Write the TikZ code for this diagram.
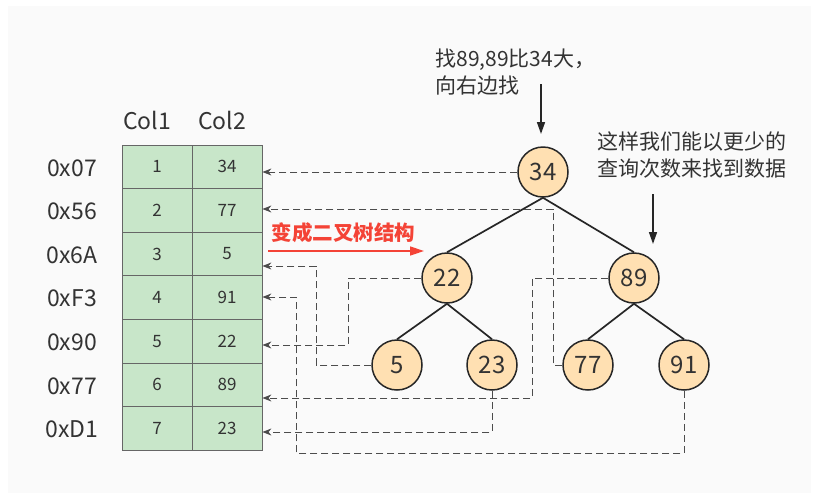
\documentclass[tikz,border=0pt]{standalone}
\usepackage{fontspec}
\setmainfont{Noto Sans CJK SC}
\usetikzlibrary{arrows.meta}
\definecolor{cellg}{HTML}{C8E6C9}
\definecolor{nodef}{HTML}{FFE0B2}
\definecolor{bgg}{HTML}{FAFAFA}
\definecolor{redc}{HTML}{F44336}
\begin{document}
\begin{tikzpicture}[x=1pt,y=-1pt,
  cell/.style={draw=gray!80!black,line width=0.8pt,fill=cellg,minimum width=70pt,minimum height=43.6pt,inner sep=0pt,font=\fontsize{17}{19}\selectfont,text=black!80},
  tn/.style={circle,draw=black!85,line width=1.5pt,fill=nodef,minimum size=50pt,inner sep=0pt,font=\fontsize{24}{26}\selectfont,text=black!80},
  lbl/.style={font=\fontsize{23}{25}\selectfont,text=black!80},
  dl/.style={dashed,dash pattern=on 7pt off 4pt,draw=black!70,line width=1pt,-{Stealth[length=9pt,width=7pt]}},
  ed/.style={line width=1.7pt,draw=black!85},
  ann/.style={font=\fontsize{21}{27}\selectfont,text=black!80,align=left}]
\useasboundingbox (0,0) rectangle (819,499);
\fill[white] (0,0) rectangle (819,499);
\fill[bgg] (8,6) rectangle (811,493);
% headers
\node[lbl] (h1) at (147,120) {Col1};
\node[lbl] (h2) at (222,120) {Col2};
% table
\foreach \i/\a/\b/\r in {1/1/34/0x07,2/2/77/0x56,3/3/5/0x6A,4/4/91/0xF3,5/5/22/0x90,6/6/89/0x77,7/7/23/0xD1}{
  \node[cell] (a\i) at (157,{145+43.6*(\i-0.5)}) {\a};
  \node[cell] (b\i) at (227,{145+43.6*(\i-0.5)}) {\b};
  \node[lbl,anchor=center] (r\i) at (72,{145+43.6*(\i-0.5)+1}) {\r};
}
% tree
\node[tn] (n34) at (543,172) {34};
\node[tn] (n22) at (447,278) {22};
\node[tn] (n89) at (634,278) {89};
\node[tn] (n5) at (397,365) {5};
\node[tn] (n23) at (492,365) {23};
\node[tn] (n77) at (588,365) {77};
\node[tn] (n91) at (684,365) {91};
\draw[ed] (n34.south) -- (n22.north);
\draw[ed] (n34.south) -- (n89.north);
\draw[ed] (n22.south) -- (n5.north);
\draw[ed] (n22.south) -- (n23.north);
\draw[ed] (n89.south) -- (n77.north);
\draw[ed] (n89.south) -- (n91.north);
% dashed
\draw[dl] (n34.west) -- (b1.east |- n34.west);
\draw[dl] (n77.west) -| (553,209) -- (b2.east |- 0,209);
\draw[dl] (n5.west) -| (316,266) -- (b3.east |- 0,266);
\draw[dl] (n91.south) |- (296,453) -- (296,297) -- (b4.east |- 0,297);
\draw[dl] (n22.west) -| (348,345) -- (b5.east |- 0,345);
\draw[dl] (n89.west) -| (532,398) -- (b6.east |- 0,398);
\draw[dl] (n23.south) |- (b7.east |- 0,432);
% red
\node[font=\fontsize{20.5}{22}\selectfont\bfseries,text=redc,anchor=west] (red) at (268,233) {变成二叉树结构};
\coordinate (rs) at (268,251);
\coordinate (re) at (424,251);
\draw[redc,line width=1.5pt,-{Triangle[length=14pt,width=9pt]}] (rs) -- (re);
% annotations
\node[ann,anchor=west] (t1) at (432,72) {找89,89比34大，\\向右边找};
\coordinate (t1a) at (541,84);
\coordinate (t1b) at (541,134);
\draw[line width=1.5pt,draw=black!85,-{Triangle[length=12pt,width=8pt]}] (t1a) -- (t1b);
\node[ann,anchor=west] (t2) at (594,155) {这样我们能以更少的\\查询次数来找到数据};
\coordinate (t2a) at (653,194);
\coordinate (t2b) at (653,244);
\draw[line width=1.5pt,draw=black!85,-{Triangle[length=12pt,width=8pt]}] (t2a) -- (t2b);
\end{tikzpicture}
\end{document}
